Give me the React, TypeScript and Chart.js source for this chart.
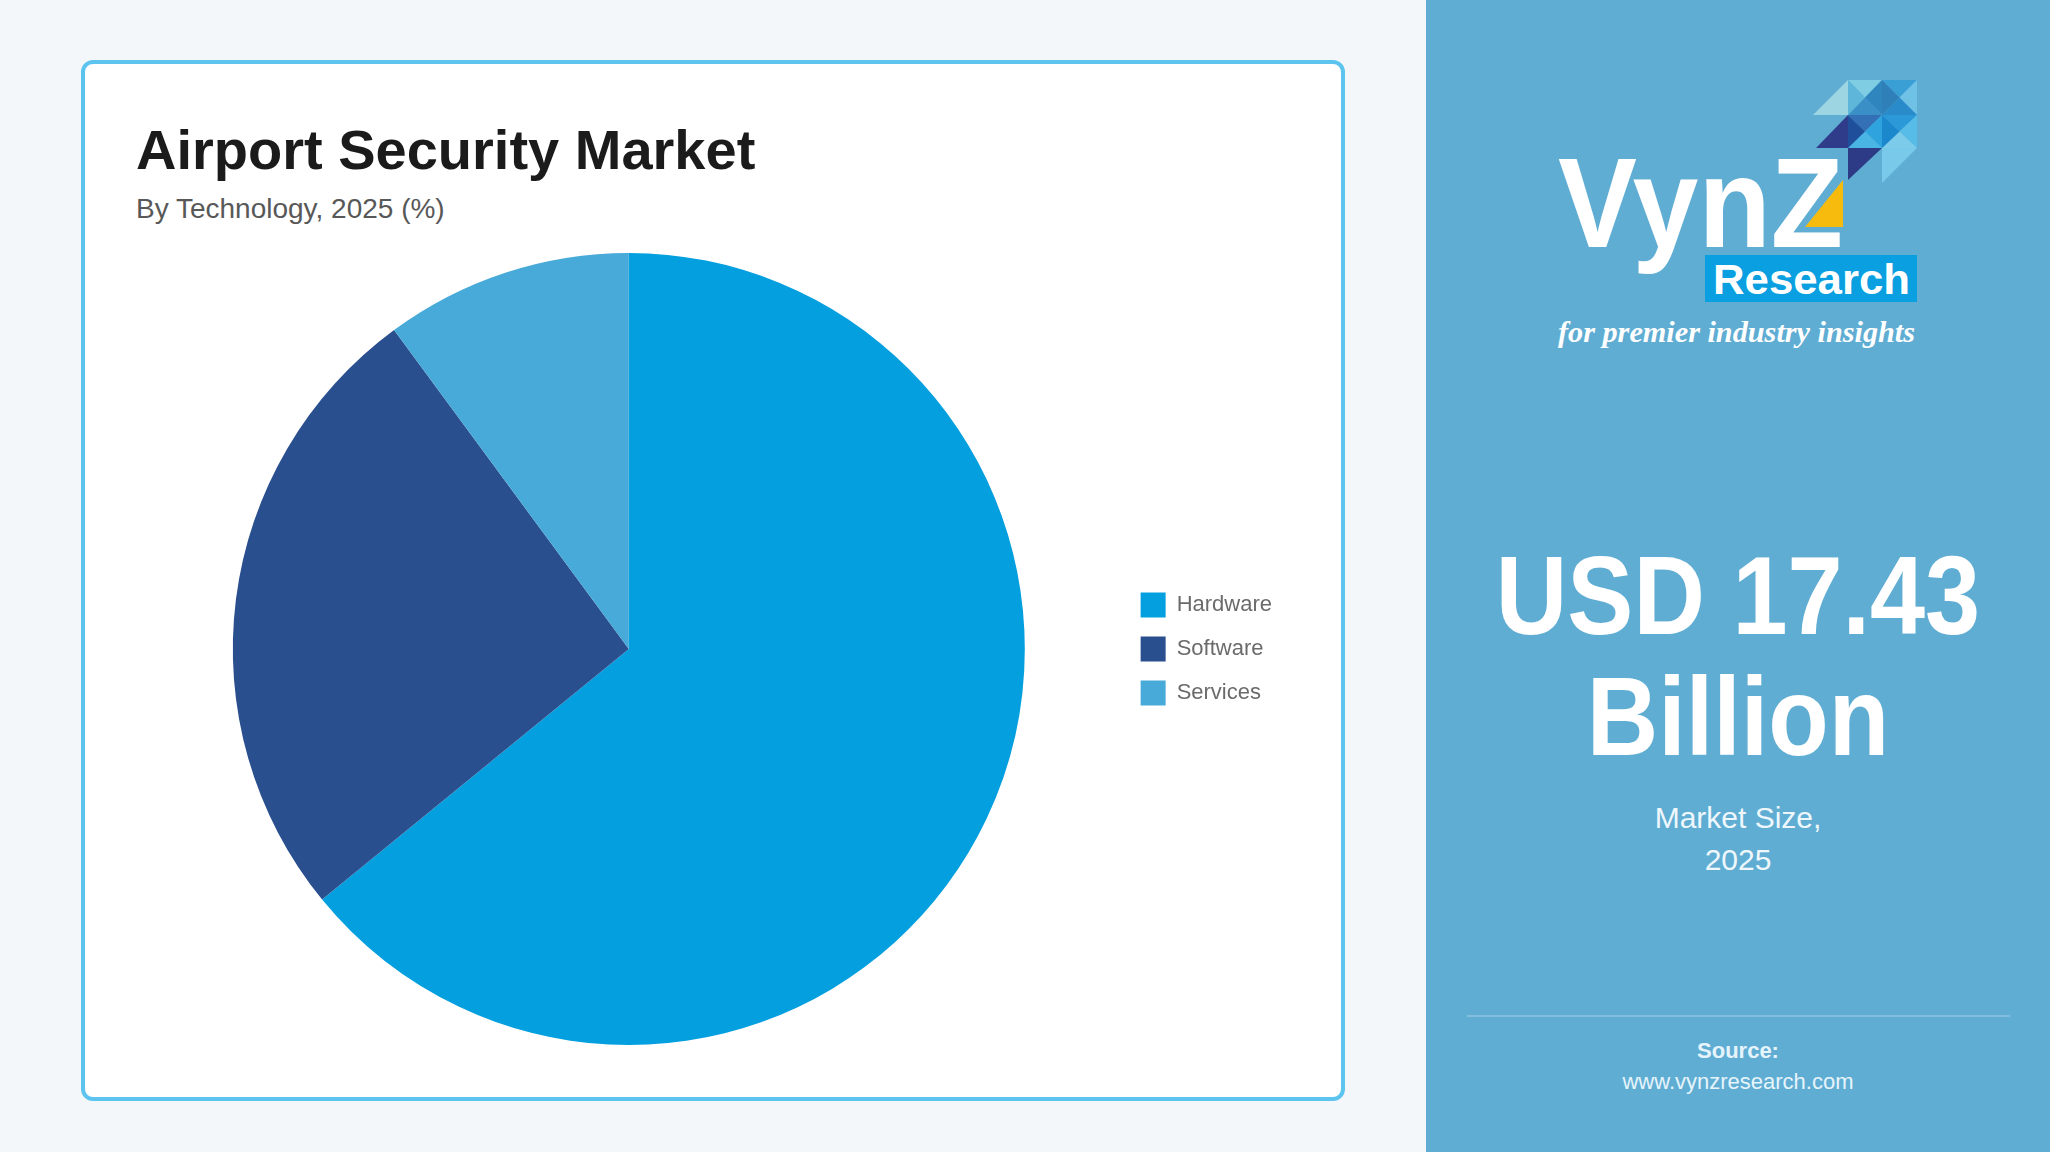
import React, { useEffect, useRef } from "react";
import { Chart, registerables } from "chart.js";

Chart.register(...registerables);

// ---- data ----
const categories = ["Hardware", "Software", "Services"];
const shares = [64.1, 25.8, 10.1];
const sliceColors = ["#049fdf", "#2a4f8f", "#47aad9"];

const titleText = "Airport Security Market";
const subtitleText = "By Technology, 2025 (%)";
const marketValue = "USD 17.43";
const marketUnit = "Billion";
const marketLabel = "Market Size,";
const marketYear = "2025";
const sourceLabel = "Source:";
const sourceUrl = "www.vynzresearch.com";

const FONT = "'Liberation Sans', Arial, Helvetica, sans-serif";

type Tri = { pts: string; fill: string };

function cellTris(x0: number, y0: number, x1: number, y1: number, cols: [string, string, string, string]): Tri[] {
  const cx = (x0 + x1) / 2;
  const cy = (y0 + y1) / 2;
  return [
    { pts: `${x0},${y0} ${x1},${y0} ${cx},${cy}`, fill: cols[0] },
    { pts: `${x1},${y0} ${x1},${y1} ${cx},${cy}`, fill: cols[1] },
    { pts: `${x0},${y1} ${x1},${y1} ${cx},${cy}`, fill: cols[2] },
    { pts: `${x0},${y0} ${x0},${y1} ${cx},${cy}`, fill: cols[3] },
  ];
}

function Logo() {
  const X = [313, 348, 382, 417];
  const Y = [20, 55, 88, 123];
  const tris: Tri[] = [
    { pts: `${X[1]},${Y[0]} ${X[1]},${Y[1]} ${X[0]},${Y[1]}`, fill: "#9dd6e2" },
    ...cellTris(X[1], Y[0], X[2], Y[1], ["#7fcde3", "#2f86bf", "#3a8fc6", "#5eb7da"]),
    ...cellTris(X[2], Y[0], X[3], Y[1], ["#3a9fd5", "#6fc2e6", "#2a8bcb", "#2f7fb9"]),
    { pts: `${X[1]},${Y[1]} ${X[1]},${Y[2]} ${X[0] + 3},${Y[2]}`, fill: "#2e3c8a" },
    ...cellTris(X[1], Y[1], X[2], Y[2], ["#3370b5", "#2fa3dd", "#49b5e5", "#1f4e9a"]),
    ...cellTris(X[2], Y[1], X[3], Y[2], ["#2b99d8", "#58bce8", "#7ccbea", "#1b87cc"]),
    { pts: `${X[1]},${Y[2]} ${X[2]},${Y[2]} ${X[1]},${Y[3] - 3}`, fill: "#2d3a85" },
    { pts: `${X[2]},${Y[2]} ${X[3]},${Y[2]} ${X[2]},${Y[3]}`, fill: "#78c9ea" },
  ];
  return (
    <svg
      width={450}
      height={300}
      viewBox="0 0 450 300"
      style={{ position: "absolute", left: 1500, top: 60 }}
    >
      {tris.map((t, i) => (
        <polygon key={i} points={t.pts} fill={t.fill} />
      ))}
      <text
        x={58}
        y={187}
        fontFamily={FONT}
        fontWeight="bold"
        fontSize={128}
        fill="#ffffff"
        textLength={285}
        lengthAdjust="spacingAndGlyphs"
      >
        VynZ
      </text>
      <polygon points="343,120 343,167 305,167" fill="#f7bb0e" />
      <rect x={205} y={195} width={212} height={47} fill="#0a9fe0" />
      <text
        x={213}
        y={234}
        fontFamily={FONT}
        fontWeight="bold"
        fontSize={42}
        fill="#ffffff"
        textLength={197}
        lengthAdjust="spacingAndGlyphs"
      >
        Research
      </text>
      <text
        x={58}
        y={282}
        fontFamily="'Liberation Serif', 'DejaVu Serif', serif"
        fontStyle="italic"
        fontWeight="bold"
        fontSize={30}
        fill="#ffffff"
        textLength={357}
        lengthAdjust="spacingAndGlyphs"
      >
        for premier industry insights
      </text>
    </svg>
  );
}

function PieChart() {
  const ref = useRef<HTMLCanvasElement | null>(null);
  useEffect(() => {
    if (!ref.current) return;
    const chart = new Chart(ref.current, {
      type: "pie",
      data: {
        labels: categories,
        datasets: [
          {
            data: shares,
            backgroundColor: sliceColors,
            borderWidth: 0,
          },
        ],
      },
      options: {
        responsive: false,
        animation: false,
        layout: { padding: 0 },
        plugins: {
          legend: {
            position: "right",
            align: "center",
            labels: {
              boxWidth: 25,
              boxHeight: 25,
              padding: 19,
              color: "#6b6b6b",
              font: { family: FONT, size: 22 },
            },
          },
          tooltip: { enabled: false },
          title: { display: false },
        },
      },
    });
    return () => chart.destroy();
  }, []);
  return (
    <canvas
      ref={ref}
      width={1146}
      height={792}
      style={{ position: "absolute", left: 136, top: 253, width: 1146, height: 792 }}
    />
  );
}

export default function App() {
  const abs = (o: React.CSSProperties): React.CSSProperties => ({ position: "absolute", ...o });
  return (
    <div
      style={{
        position: "fixed",
        left: 0,
        top: 0,
        width: 2050,
        height: 1152,
        background: "#f3f7fa",
        overflow: "hidden",
        fontFamily: FONT,
      }}
    >
      <div
        style={abs({
          left: 81,
          top: 60,
          width: 1264,
          height: 1041,
          boxSizing: "border-box",
          border: "4px solid #5cc4ef",
          borderRadius: 12,
          background: "#ffffff",
        })}
      />
      <div
        style={abs({
          left: 136,
          top: 122,
          fontSize: 56,
          lineHeight: "56px",
          fontWeight: "bold",
          color: "#1b1b1b",
          whiteSpace: "nowrap",
        })}
      >
        {titleText}
      </div>
      <div
        style={abs({
          left: 136,
          top: 195,
          fontSize: 28,
          lineHeight: "28px",
          color: "#585858",
          whiteSpace: "nowrap",
        })}
      >
        {subtitleText}
      </div>
      <PieChart />

      <div style={abs({ left: 1426, top: 0, width: 624, height: 1152, background: "#60add3" })} />
      <Logo />
      <div
        style={abs({
          left: 1426,
          width: 624,
          top: 546,
          textAlign: "center",
          fontSize: 99,
          lineHeight: "99px",
          fontWeight: "bold",
          color: "#ffffff",
          whiteSpace: "nowrap",
          transform: "scaleY(1.12)",
        })}
      >
        {marketValue}
      </div>
      <div
        style={abs({
          left: 1426,
          width: 624,
          top: 667,
          textAlign: "center",
          fontSize: 99,
          lineHeight: "99px",
          fontWeight: "bold",
          color: "#ffffff",
          whiteSpace: "nowrap",
          transform: "scaleY(1.12)",
        })}
      >
        {marketUnit}
      </div>
      <div
        style={abs({
          left: 1426,
          width: 624,
          top: 803,
          textAlign: "center",
          fontSize: 30,
          lineHeight: "30px",
          color: "#eef7fc",
          whiteSpace: "nowrap",
        })}
      >
        {marketLabel}
      </div>
      <div
        style={abs({
          left: 1426,
          width: 624,
          top: 845,
          textAlign: "center",
          fontSize: 30,
          lineHeight: "30px",
          color: "#eef7fc",
          whiteSpace: "nowrap",
        })}
      >
        {marketYear}
      </div>
      <div style={abs({ left: 1467, top: 1015, width: 543, height: 2, background: "rgba(255,255,255,0.22)" })} />
      <div
        style={abs({
          left: 1426,
          width: 624,
          top: 1040,
          textAlign: "center",
          fontSize: 22,
          lineHeight: "22px",
          fontWeight: "bold",
          color: "#e6f4fb",
        })}
      >
        {sourceLabel}
      </div>
      <div
        style={abs({
          left: 1426,
          width: 624,
          top: 1071,
          textAlign: "center",
          fontSize: 22,
          lineHeight: "22px",
          color: "#e6f4fb",
        })}
      >
        {sourceUrl}
      </div>
    </div>
  );
}
